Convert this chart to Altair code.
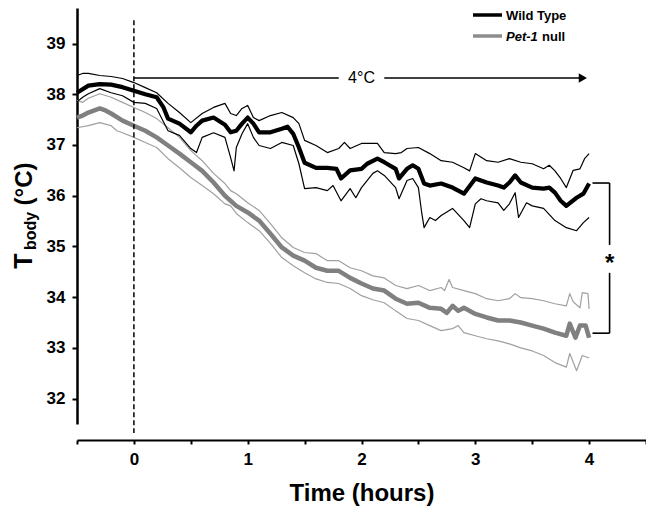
import altair as alt
import pandas as pd

# ---------------- data (hours, °C) ----------------
wt_mean_t = [-0.5, -0.4, -0.3, -0.2, -0.1, 0, 0.1, 0.2, 0.26, 0.3, 0.4, 0.5, 0.55, 0.6, 0.7, 0.8,
             0.85, 0.9, 0.95, 1.0, 1.05, 1.1, 1.2, 1.3, 1.35, 1.4, 1.45, 1.5, 1.6, 1.7, 1.78, 1.82,
             1.9, 2.0, 2.05, 2.14, 2.2, 2.3, 2.33, 2.4, 2.45, 2.5, 2.55, 2.6, 2.7, 2.8, 2.9, 3.0,
             3.1, 3.2, 3.25, 3.3, 3.35, 3.4, 3.5, 3.6, 3.65, 3.7, 3.75, 3.8, 3.89, 3.95, 4.0]
wt_mean_v = [38.03, 38.17, 38.2, 38.19, 38.14, 38.07, 38.0, 37.94, 37.74, 37.52, 37.42, 37.25, 37.38,
             37.48, 37.54, 37.4, 37.25, 37.28, 37.42, 37.54, 37.42, 37.25, 37.25, 37.32, 37.36, 37.22,
             36.95, 36.65, 36.55, 36.55, 36.53, 36.34, 36.5, 36.53, 36.63, 36.73, 36.66, 36.53, 36.34,
             36.53, 36.6, 36.53, 36.24, 36.2, 36.24, 36.16, 36.04, 36.34, 36.26, 36.2, 36.16, 36.26,
             36.4, 36.26, 36.16, 36.14, 36.16, 36.06, 35.9, 35.8, 35.96, 36.04, 36.24]

wt_upper_t = [-0.5, -0.45, -0.4, -0.3, -0.2, -0.1, 0, 0.1, 0.2, 0.3, 0.4, 0.5, 0.6, 0.7, 0.8, 0.85,
              0.9, 0.95, 1.0, 1.05, 1.1, 1.2, 1.3, 1.4, 1.45, 1.5, 1.6, 1.7, 1.8, 1.85, 1.9, 2.0, 2.1,
              2.14, 2.2, 2.3, 2.35, 2.4, 2.5, 2.6, 2.7, 2.8, 2.9, 2.95, 3.0, 3.1, 3.2, 3.3, 3.4, 3.5,
              3.6, 3.65, 3.7, 3.75, 3.8, 3.86, 3.92, 3.96, 4.0]
wt_upper_v = [38.37, 38.41, 38.41, 38.37, 38.35, 38.31, 38.23, 38.13, 38.03, 37.82, 37.64, 37.44,
              37.62, 37.74, 37.82, 37.62, 37.58, 37.72, 37.78, 37.54, 37.48, 37.58, 37.64, 37.54,
              37.42, 37.09, 36.99, 36.85, 36.93, 37.05, 36.93, 37.03, 37.03, 37.03, 36.85, 36.83,
              36.85, 36.93, 36.95, 36.83, 36.69, 36.66, 36.55, 36.49, 36.83, 36.69, 36.66, 36.73,
              36.66, 36.63, 36.53, 36.6, 36.49, 36.34, 36.16, 36.5, 36.53, 36.73, 36.83]

wt_lower_t = [-0.5, -0.45, -0.4, -0.3, -0.2, -0.1, 0, 0.1, 0.2, 0.3, 0.4, 0.5, 0.55, 0.6, 0.7, 0.8,
              0.85, 0.88, 0.9, 0.95, 1.0, 1.05, 1.1, 1.2, 1.3, 1.4, 1.45, 1.5, 1.6, 1.7, 1.75, 1.82,
              1.9, 1.95, 2.0, 2.1, 2.14, 2.2, 2.3, 2.33, 2.4, 2.45, 2.5, 2.53, 2.55, 2.6, 2.65, 2.7,
              2.8, 2.9, 2.95, 3.0, 3.05, 3.1, 3.2, 3.25, 3.3, 3.35, 3.38, 3.45, 3.5, 3.6, 3.7, 3.8,
              3.89, 3.95, 4.0]
wt_lower_v = [37.85, 37.94, 38.01, 38.11, 38.03, 37.97, 37.84, 37.82, 37.72, 37.28, 37.19, 36.93,
              36.85, 37.15, 37.24, 37.15, 36.75, 36.49, 36.95, 37.22, 37.42, 37.15, 36.99, 36.93,
              37.05, 36.99, 36.63, 36.14, 36.16, 36.1, 36.2, 35.9, 36.14, 35.96, 36.16, 36.44, 36.49,
              36.4, 36.16, 35.94, 36.3, 36.34, 36.16, 35.65, 35.37, 35.57, 35.51, 35.61, 35.75, 35.51,
              35.37, 35.84, 35.94, 35.9, 35.86, 35.71, 35.84, 36.06, 35.57, 35.86, 35.8, 35.75, 35.51,
              35.37, 35.31, 35.47, 35.57]

null_mean_t = [-0.5, -0.45, -0.4, -0.3, -0.25, -0.2, -0.1, 0, 0.1, 0.2, 0.3, 0.4, 0.5, 0.6, 0.7, 0.8,
               0.9, 1.0, 1.1, 1.2, 1.3, 1.4, 1.5, 1.6, 1.7, 1.8, 1.9, 2.0, 2.1, 2.2, 2.3, 2.4, 2.5, 2.6,
               2.7, 2.75, 2.8, 2.85, 2.9, 3.0, 3.1, 3.2, 3.3, 3.4, 3.5, 3.6, 3.7, 3.8, 3.83, 3.88, 3.92,
               3.97, 4.0]
null_mean_v = [37.54, 37.58, 37.64, 37.72, 37.68, 37.62, 37.48, 37.38, 37.28, 37.15, 36.99, 36.83,
               36.66, 36.49, 36.26, 36.0, 35.8, 35.67, 35.51, 35.25, 34.98, 34.82, 34.72, 34.58, 34.52,
               34.52, 34.38, 34.27, 34.17, 34.13, 33.97, 33.87, 33.89, 33.79, 33.77, 33.69, 33.83,
               33.73, 33.79, 33.67, 33.6, 33.54, 33.54, 33.5, 33.44, 33.38, 33.3, 33.24, 33.48, 33.2,
               33.44, 33.44, 33.2]

null_upper_t = [-0.5, -0.45, -0.4, -0.3, -0.2, -0.1, 0, 0.1, 0.2, 0.3, 0.4, 0.5, 0.6, 0.7, 0.8, 0.85,
                0.9, 1.0, 1.1, 1.2, 1.3, 1.4, 1.5, 1.6, 1.7, 1.8, 1.9, 2.0, 2.1, 2.2, 2.3, 2.4, 2.5,
                2.6, 2.7, 2.73, 2.77, 2.8, 2.9, 3.0, 3.1, 3.2, 3.3, 3.35, 3.4, 3.5, 3.6, 3.7, 3.8, 3.83,
                3.86, 3.92, 3.94, 3.99, 4.0]
null_upper_v = [37.88, 37.84, 37.92, 38.01, 37.94, 37.84, 37.74, 37.64, 37.52, 37.34, 37.15, 36.89,
                36.69, 36.44, 36.24, 36.1, 36.04, 35.86, 35.71, 35.45, 35.17, 34.98, 34.88, 34.86,
                34.72, 34.72, 34.58, 34.52, 34.42, 34.38, 34.23, 34.17, 34.23, 34.13, 34.19, 34.13,
                34.35, 34.19, 34.13, 34.07, 33.97, 33.93, 33.97, 34.07, 33.99, 33.97, 33.93, 33.87,
                33.83, 34.07, 33.91, 33.79, 34.09, 34.07, 33.77]

null_lower_t = [-0.5, -0.4, -0.3, -0.2, -0.15, -0.1, 0, 0.1, 0.2, 0.3, 0.4, 0.5, 0.6, 0.7, 0.8, 0.85,
                0.9, 1.0, 1.1, 1.2, 1.3, 1.4, 1.5, 1.6, 1.7, 1.8, 1.9, 2.0, 2.1, 2.2, 2.3, 2.4, 2.5,
                2.6, 2.7, 2.8, 2.85, 2.9, 3.0, 3.1, 3.2, 3.3, 3.4, 3.5, 3.6, 3.7, 3.8, 3.83, 3.89,
                3.94, 4.0]
null_lower_v = [37.34, 37.38, 37.44, 37.38, 37.28, 37.24, 37.15, 37.05, 36.95, 36.73, 36.55, 36.36,
                36.2, 36.04, 35.84, 35.8, 35.65, 35.47, 35.31, 35.06, 34.78, 34.62, 34.48, 34.36,
                34.29, 34.27, 34.17, 34.03, 33.95, 33.89, 33.73, 33.58, 33.54, 33.44, 33.34, 33.38,
                33.44, 33.3, 33.24, 33.18, 33.14, 33.08, 33.0, 32.94, 32.85, 32.71, 32.62, 32.89,
                32.55, 32.85, 32.8]

x_tick_values = [-0.5, 0, 0.5, 1, 1.5, 2, 2.5, 3, 3.5, 4, 4.5]
y_tick_values = [32, 33, 34, 35, 36, 37, 38, 39]

legend_labels = ["Wild Type", "Pet-1", "null"]
arrow_label = "4°C"
star_label = "*"

FONT = "Liberation Sans"
W, H = 569, 416


def frame(t, v):
    assert len(t) == len(v), (len(t), len(v))
    return pd.DataFrame({"t": t, "v": v})


xs = alt.Scale(domain=[-0.5, 4.5], nice=False, zero=False)
ys = alt.Scale(domain=[31.5, 39.7], nice=False, zero=False)

X_AXIS = alt.Axis(values=x_tick_values,
                  labelExpr="datum.value % 1 == 0 ? format(datum.value, 'd') : ''",
                  offset=16, tickSize=4, tickWidth=2, domainWidth=2, domainColor="black",
                  tickColor="black", labelFont=FONT, labelFontSize=17, labelFontWeight="bold",
                  labelColor="black", labelPadding=7, grid=False, titleFont=FONT,
                  titleFontSize=24, titleFontWeight="bold", titleColor="black",
                  titlePadding=14, labelFlush=False, title="Time (hours)")
Y_AXIS = alt.Axis(values=y_tick_values, format="d", tickSize=5, tickWidth=2, domainWidth=2.5,
                  domainColor="black", tickColor="black", labelFont=FONT, labelFontSize=17,
                  labelFontWeight="bold", labelColor="black", labelPadding=7, grid=False,
                  labelFlush=False, title=None)


def xd(v):
    return alt.XDatum(v, scale=xs, axis=X_AXIS)


def x2d(v):
    return alt.X2Datum(v)


def yd(v):
    return alt.YDatum(v, scale=ys, axis=Y_AXIS)


def y2d(v):
    return alt.Y2Datum(v)


def series(t, v, color, width):
    return alt.Chart(frame(t, v)).mark_line(color=color, strokeWidth=width, strokeJoin="round").encode(
        x=alt.X("t:Q", scale=xs, axis=X_AXIS),
        y=alt.Y("v:Q", scale=ys, axis=Y_AXIS),
        order="t:Q",
    )


dashed = alt.Chart().mark_rule(color="black", strokeWidth=1.5, strokeDash=[5, 3]).encode(
    x=xd(0), y=yd(39.46), y2=alt.value(425))

arrow_a = alt.Chart().mark_rule(color="black", strokeWidth=1.6).encode(
    x=xd(0), x2=x2d(1.8), y=yd(38.32))
arrow_b = alt.Chart().mark_rule(color="black", strokeWidth=1.6).encode(
    x=xd(2.2), x2=x2d(3.92), y=yd(38.32))
arrow_head = alt.Chart().mark_point(shape="triangle-right", filled=True, color="black", size=90,
                                    opacity=1).encode(x=xd(3.945), y=yd(38.32))
arrow_text = alt.Chart().mark_text(text=arrow_label, font=FONT, fontSize=16, baseline="middle",
                                   color="black").encode(x=xd(2.0), y=yd(38.32))

br_style = dict(color="black", strokeWidth=1.6)
br1 = alt.Chart().mark_rule(**br_style).encode(x=xd(4.03), x2=x2d(4.18), y=yd(36.25))
br2 = alt.Chart().mark_rule(**br_style).encode(x=xd(4.18), y=yd(36.25), y2=y2d(35.03))
br3 = alt.Chart().mark_rule(**br_style).encode(x=xd(4.18), y=yd(34.48), y2=y2d(33.29))
br4 = alt.Chart().mark_rule(**br_style).encode(x=xd(4.03), x2=x2d(4.18), y=yd(33.29))
star = alt.Chart().mark_text(text=star_label, font=FONT, fontSize=24, fontWeight="bold",
                             baseline="alphabetic", color="black").encode(
    x=xd(4.18), y=yd(34.52))

# legend (pixel positions)
leg_l1 = alt.Chart().mark_rule(color="black", strokeWidth=3.5).encode(
    x=alt.value(396), x2=alt.value(425), y=alt.value(7))
leg_l2 = alt.Chart().mark_rule(color="#8c8c8c", strokeWidth=3.5).encode(
    x=alt.value(396), x2=alt.value(425), y=alt.value(28))
leg_t1 = alt.Chart().mark_text(text=legend_labels[0], font=FONT, fontSize=13, fontWeight="bold",
                               align="left", baseline="middle", color="black").encode(
    x=alt.value(429), y=alt.value(7.5))
leg_t2 = alt.Chart().mark_text(text=legend_labels[1], font=FONT, fontSize=13, fontWeight="bold",
                               fontStyle="italic", align="left", baseline="middle",
                               color="black").encode(x=alt.value(429), y=alt.value(28.5))
leg_t3 = alt.Chart().mark_text(text=legend_labels[2], font=FONT, fontSize=13, fontWeight="bold",
                               align="left", baseline="middle", color="black").encode(
    x=alt.value(465), y=alt.value(28.5))

# y axis title: T_body (°C), rotated
yt1 = alt.Chart().mark_text(text="T", font=FONT, fontSize=25, fontWeight="bold", angle=270,
                            align="center", baseline="alphabetic", color="black").encode(
    x=alt.value(-45.5), y=alt.value(253))
yt2 = alt.Chart().mark_text(text="body", font=FONT, fontSize=16, fontWeight="bold", angle=270,
                            align="center", baseline="alphabetic", color="black").encode(
    x=alt.value(-41.5), y=alt.value(223))
yt3 = alt.Chart().mark_text(text="(°C)", font=FONT, fontSize=24, fontWeight="bold", angle=270,
                            align="center", baseline="alphabetic", color="black").encode(
    x=alt.value(-45.5), y=alt.value(176))

GRAY_THIN = "#a0a0a0"
GRAY_THICK = "#808080"

chart = alt.layer(
    series(null_upper_t, null_upper_v, GRAY_THIN, 1.2),
    series(null_lower_t, null_lower_v, GRAY_THIN, 1.2),
    series(null_mean_t, null_mean_v, GRAY_THICK, 4.5),
    series(wt_upper_t, wt_upper_v, "black", 1.2),
    series(wt_lower_t, wt_lower_v, "black", 1.2),
    series(wt_mean_t, wt_mean_v, "black", 4.2),
    dashed,
    arrow_a, arrow_b, arrow_head, arrow_text,
    br1, br2, br3, br4, star,
    leg_l1, leg_l2, leg_t1, leg_t2, leg_t3,
    yt1, yt2, yt3,
).properties(
    width=W, height=H,
    autosize=alt.AutoSizeParams(type="none"),
    padding={"left": 69, "top": 0, "right": 0, "bottom": 85},
    background="white",
).configure_view(stroke=None)

chart.save("out.html", embed_options={"renderer": "svg", "actions": False})
